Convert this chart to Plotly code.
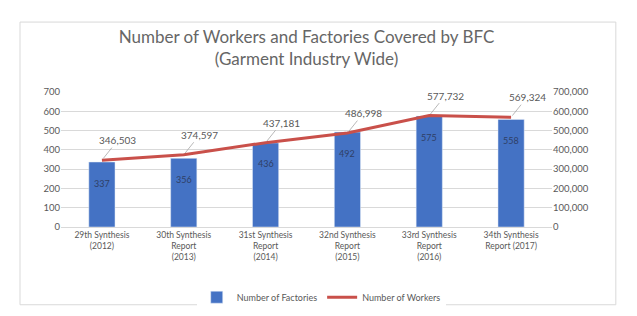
import plotly.graph_objects as go

categories = [
    "29th Synthesis<br>(2012)",
    "30th Synthesis<br>Report<br>(2013)",
    "31st Synthesis<br>Report<br>(2014)",
    "32nd Synthesis<br>Report<br>(2015)",
    "33rd Synthesis<br>Report<br>(2016)",
    "34th Synthesis<br>Report (2017)",
]
factories = [337, 356, 436, 492, 575, 558]
workers = [346503, 374597, 437181, 486998, 577732, 569324]
left_ticks = [0, 100, 200, 300, 400, 500, 600, 700]
right_ticks = [0, 100000, 200000, 300000, 400000, 500000, 600000, 700000]

FONT = "Lato, Liberation Sans, sans-serif"
GRAY = "#595959"

fig = go.Figure()
fig.add_trace(go.Bar(
    x=categories, y=factories, name="Number of Factories",
    marker=dict(color="#4472C4"),
    width=0.32,
    yaxis="y",
))
fig.add_trace(go.Scatter(
    x=categories, y=workers, name="Number of Workers",
    mode="lines", line=dict(color="#C9504A", width=3),
    yaxis="y2",
))
for c, f in zip(categories, factories):
    fig.add_annotation(
        x=c, y=f, xref="x", yref="y", text=str(f), showarrow=False,
        yshift=-21, font=dict(size=9, color="#2F3F66", family=FONT),
    )
for c, w in zip(categories, workers):
    fig.add_annotation(
        x=c, y=w, xref="x", yref="y2",
        text=f"{w:,}", showarrow=True, arrowhead=0, arrowwidth=0.8,
        arrowcolor="#A6A6A6", ax=16, ay=-20, standoff=2,
        font=dict(size=10, color=GRAY, family=FONT),
    )

fig.update_layout(
    width=637, height=316,
    margin=dict(l=53, r=93, t=84, b=93),
    paper_bgcolor="white", plot_bgcolor="white",
    title=dict(
        text="Number of Workers and Factories Covered by BFC<br>(Garment Industry Wide)",
        x=0.5, xref="paper", y=0.89, yanchor="middle",
        font=dict(size=17, color="#666666", family=FONT),
    ),
    font=dict(family=FONT, color=GRAY),
    xaxis=dict(
        tickfont=dict(size=8.5, color=GRAY), showgrid=False,
        showline=True, linecolor="#D9D9D9", linewidth=1,
    ),
    yaxis=dict(
        range=[0, 700], tickvals=left_ticks,
        tickfont=dict(size=9.5, color=GRAY),
        gridcolor="#D9D9D9", gridwidth=1, zeroline=False,
    ),
    yaxis2=dict(
        range=[0, 700000], tickvals=right_ticks, tickformat=",",
        overlaying="y", side="right", showgrid=False, zeroline=False,
        tickfont=dict(size=9.5, color=GRAY),
    ),
    legend=dict(
        orientation="h", x=0.53, xanchor="center", y=-0.52, yanchor="middle",
        font=dict(size=9, color=GRAY),
    ),
    showlegend=True,
    shapes=[dict(
        type="rect", xref="paper", yref="paper",
        x0=-0.0835, x1=1.13, y0=-0.576, y1=1.518,
        line=dict(color="#D9D9D9", width=1), layer="below",
    )],
)

fig.write_html("out.html")
